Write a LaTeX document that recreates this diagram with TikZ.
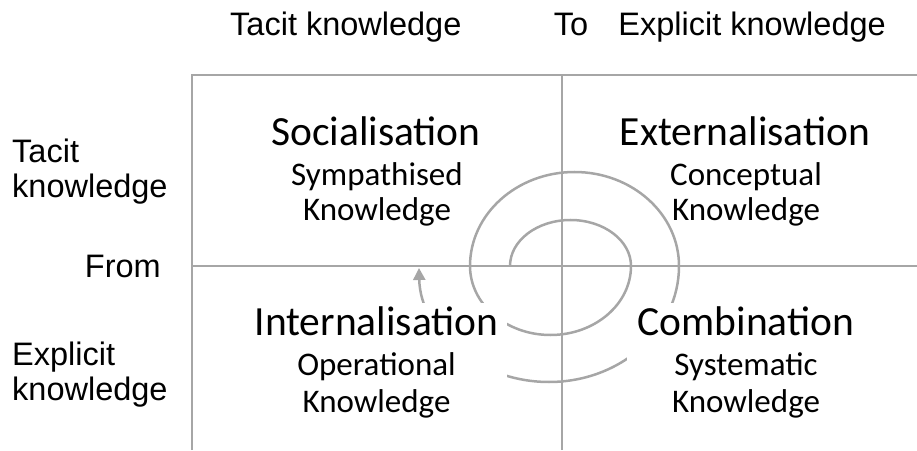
\documentclass[tikz,border=0pt]{standalone}
\usepackage{fontspec}
\setmainfont{Liberation Sans}
\newfontfamily\quadfont{Carlito}
\usetikzlibrary{arrows.meta}

\definecolor{rulegray}{RGB}{166,166,166}

\tikzset{
  grid line/.style={draw=rulegray, line width=2.5pt},
  spiral line/.style={draw=rulegray, line width=2.5pt},
  axis label/.style={inner sep=0pt, font=\fontsize{32.5}{38}\selectfont},
  mode title/.style={inner sep=0pt, anchor=base, font=\quadfont\fontsize{41.5}{48}\selectfont},
  mode sub/.style={inner sep=0pt, anchor=base, font=\quadfont\fontsize{33}{38}\selectfont},
  mask/.style={fill=white, draw=none, inner sep=0pt},
}

\begin{document}
\begin{tikzpicture}[x=1pt, y=1pt]
  \useasboundingbox (0,0) rectangle (917,450);

  % quadrant grid
  \coordinate (gridBL) at (192,0);
  \coordinate (gridTL) at (192,375);
  \coordinate (gridTR) at (917,375);
  \coordinate (midTop) at (562,375);
  \coordinate (midBot) at (562,0);
  \coordinate (midL) at (192,184);
  \coordinate (midR) at (917,184);
  \draw[grid line] (gridBL) -- (gridTL) -- (gridTR);
  \draw[grid line] (midBot) -- (midTop);
  \draw[grid line] (midL) -- (midR);

  % knowledge spiral (SECI), growing clockwise
  \coordinate (spiralStart) at (510,184);
  \draw[spiral line, -{Triangle[length=12pt, width=12pt]}] (spiralStart)
    arc[start angle=180, end angle=0,    x radius=60.5,  y radius=46]
    arc[start angle=0,   end angle=-180, x radius=80.5,  y radius=69]
    arc[start angle=180, end angle=0,    x radius=104.5, y radius=94]
    arc[start angle=0,   end angle=-179, x radius=130,   y radius=116];

  % white panels behind the lower captions
  \node[mask, minimum width=262pt, minimum height=125pt] (internalMask) at (376,84.5) {};
  \node[mask, minimum width=240pt, minimum height=125pt] (combinationMask) at (747,84.5) {};

  % quadrant captions
  \node[mode title] (socTitle) at (376,304) {Socialisation};
  \node[mode sub]   (socSub1)  at (377,264) {Sympathised};
  \node[mode sub]   (socSub2)  at (377,229) {Knowledge};

  \node[mode title] (extTitle) at (745,304) {Externalisation};
  \node[mode sub]   (extSub1)  at (746,264) {Conceptual};
  \node[mode sub]   (extSub2)  at (746,229) {Knowledge};

  \node[mode title] (intTitle) at (376.5,115) {Internalisation};
  \node[mode sub]   (intSub1)  at (376.5,75)  {Operational};
  \node[mode sub]   (intSub2)  at (376.5,38)  {Knowledge};

  \node[mode title] (comTitle) at (746,115) {Combination};
  \node[mode sub]   (comSub1)  at (746,75)  {Systematic};
  \node[mode sub]   (comSub2)  at (746,38)  {Knowledge};

  % axis labels
  \node[axis label, anchor=base west] (colFrom) at (230,414) {Tacit knowledge};
  \node[axis label, anchor=base]      (colTo)   at (571,414) {To};
  \node[axis label, anchor=base east] (colDest) at (886,414) {Explicit knowledge};

  \node[axis label, anchor=base west] (rowTacitA) at (12,287) {Tacit};
  \node[axis label, anchor=base west] (rowTacitB) at (12,252) {knowledge};
  \node[axis label, anchor=base east] (rowFrom)   at (161,173) {From};
  \node[axis label, anchor=base west] (rowExplA)  at (12,85)  {Explicit};
  \node[axis label, anchor=base west] (rowExplB)  at (12,50)  {knowledge};
\end{tikzpicture}
\end{document}
